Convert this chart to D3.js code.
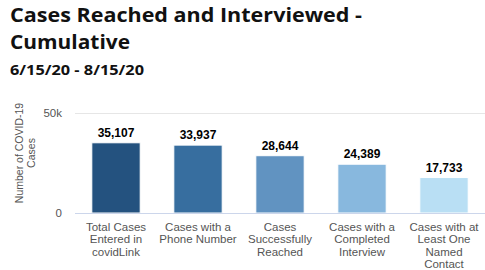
<!DOCTYPE html>
<html>
<head>
<meta charset="utf-8">
<script src="https://cdn.jsdelivr.net/npm/d3@7"></script>
<style>
  body { margin: 0; background: #fff; }
  svg { display: block; }
  .title { font-family: "Open Sans", Lato, sans-serif; font-weight: 700; fill: #111; }
  .lbl { font-family: "Liberation Sans", Arial, sans-serif; }
</style>
</head>
<body>
<svg id="chart"></svg>
<script>
const width = 485, height = 270;

// data
const categories = [
  ["Total Cases", "Entered in", "covidLink"],
  ["Cases with a", "Phone Number"],
  ["Cases", "Successfully", "Reached"],
  ["Cases with a", "Completed", "Interview"],
  ["Cases with at", "Least One", "Named", "Contact"]
];
const values = [35107, 33937, 28644, 24389, 17733];
const colors = ["#24527f", "#376e9f", "#6193c1", "#88b8de", "#b9dff4"];
const yTicks = [0, 50000];
const yTickLabels = ["0", "50k"];

const svg = d3.select("#chart").attr("width", width).attr("height", height);

// titles
svg.append("text").attr("class", "title").attr("x", 10).attr("y", 22)
  .style("font-size", "20px").attr("textLength", 352).attr("lengthAdjust", "spacingAndGlyphs")
  .text("Cases Reached and Interviewed -");
svg.append("text").attr("class", "title").attr("x", 10).attr("y", 49)
  .style("font-size", "20px").attr("textLength", 120).attr("lengthAdjust", "spacingAndGlyphs")
  .text("Cumulative");
svg.append("text").attr("class", "title").attr("x", 10).attr("y", 75)
  .style("font-size", "15px").attr("textLength", 134).attr("lengthAdjust", "spacingAndGlyphs")
  .text("6/15/20 - 8/15/20");

const x = d3.scaleBand().domain(d3.range(values.length)).range([75, 485])
  .paddingInner(0.41).paddingOuter(0.205);
const y = d3.scaleLinear().domain([0, 50000]).range([213, 113]);

// gridlines
svg.append("g").selectAll("line").data(yTicks.filter(d => d > 0)).join("line")
  .attr("x1", 75).attr("x2", 485)
  .attr("y1", d => y(d) + 0.5).attr("y2", d => y(d) + 0.5)
  .attr("stroke", "#e6e6e6");

// y tick labels
svg.append("g").selectAll("text").data(yTicks).join("text")
  .attr("class", "lbl")
  .attr("x", 62).attr("y", d => y(d) + 4)
  .attr("text-anchor", "end")
  .style("font-size", "11.5px").style("fill", "#555")
  .text((d, i) => yTickLabels[i]);

// y axis title
const yt = svg.append("text").attr("class", "lbl")
  .attr("transform", "translate(23,153) rotate(-90)")
  .attr("text-anchor", "middle")
  .style("font-size", "10.5px").style("fill", "#555");
yt.append("tspan").attr("x", 0).attr("dy", 0).text("Number of COVID-19");
yt.append("tspan").attr("x", 0).attr("dy", 12).text("Cases");

// bars
svg.append("g").selectAll("rect").data(values).join("rect")
  .attr("x", (d, i) => x(i))
  .attr("y", d => y(d))
  .attr("width", x.bandwidth())
  .attr("height", d => y(0) - y(d))
  .attr("fill", (d, i) => colors[i])
  .attr("stroke", "#fff").attr("stroke-width", 1);

// zero line
svg.append("line").attr("x1", 75).attr("x2", 485)
  .attr("y1", y(0) + 0.5).attr("y2", y(0) + 0.5)
  .attr("stroke", "#ccd6eb");

// data labels
svg.append("g").selectAll("text").data(values).join("text")
  .attr("class", "lbl")
  .attr("x", (d, i) => x(i) + x.bandwidth() / 2)
  .attr("y", d => y(d) - 6)
  .attr("text-anchor", "middle")
  .style("font-size", "12px").style("font-weight", "700").style("fill", "#000")
  .text(d => d3.format(",")(d));

// category labels
const cat = svg.append("g").selectAll("text").data(categories).join("text")
  .attr("class", "lbl")
  .attr("text-anchor", "middle")
  .style("font-size", "11.5px").style("fill", "#555");
cat.each(function(lines, i) {
  const t = d3.select(this);
  lines.forEach((l, j) => {
    t.append("tspan")
      .attr("x", x(i) + x.bandwidth() / 2)
      .attr("y", 231 + j * 12.3)
      .text(l);
  });
});
</script>
</body>
</html>
